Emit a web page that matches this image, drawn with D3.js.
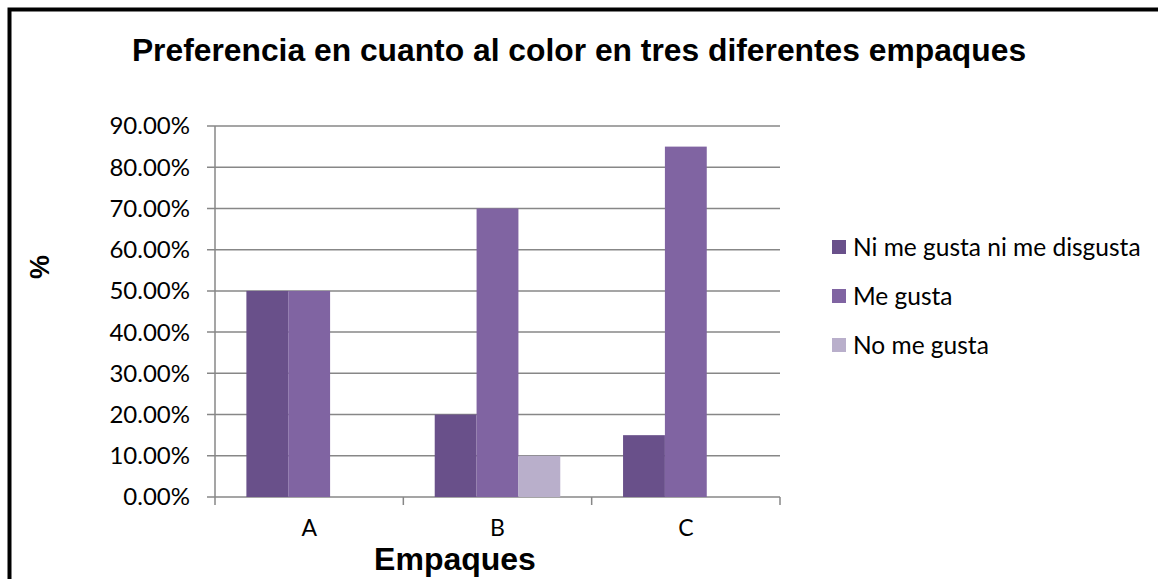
<!DOCTYPE html>
<html>
<head>
<meta charset="utf-8">
<script src="https://cdn.jsdelivr.net/npm/d3@7"></script>
<style>
body { margin: 0; background: #fff; }
</style>
</head>
<body>
<div id="chart"></div>
<script>
//chart data
var categories = ["A", "B", "C"];
var series = ["Ni me gusta ni me disgusta", "Me gusta", "No me gusta"];
var values = [
	[0.50, 0.50, 0.00],   //A
	[0.20, 0.70, 0.10],   //B
	[0.15, 0.85, 0.00]    //C
];
var yTicks = [0, 0.1, 0.2, 0.3, 0.4, 0.5, 0.6, 0.7, 0.8, 0.9];
var colors = ["#69508a", "#8064a2", "#b9afcb"];

var W = 1158, H = 579;
var svg = d3.select("#chart").append("svg")
	.attr("width", W)
	.attr("height", H);

//outer frame (runs past the right and bottom edges)
svg.append("rect")
	.attr("x", 9.5).attr("y", 9.5)
	.attr("width", 1300).attr("height", 700)
	.attr("fill", "white")
	.attr("stroke", "black")
	.attr("stroke-width", 4);

//plot area
var plotLeft = 215, plotRight = 780, plotTop = 126, plotBottom = 497;

var y = d3.scaleLinear().domain([0, 0.9]).range([plotBottom, plotTop]);
var x = d3.scaleBand().domain(categories).range([plotLeft, plotRight]).padding(0);
var xs = d3.scaleBand().domain(series).range([0, x.bandwidth()])
	.paddingInner(0).paddingOuter(0.75);

//gridlines + left ticks
svg.selectAll("line.grid")
	.data(yTicks)
	.enter()
	.append("line")
	.attr("class", "grid")
	.attr("x1", plotLeft - 8)
	.attr("x2", plotRight)
	.attr("y1", function(d){ return y(d); })
	.attr("y2", function(d){ return y(d); })
	.attr("stroke", "#878787")
	.attr("stroke-width", 1.5);

//y axis line
svg.append("line")
	.attr("x1", plotLeft).attr("x2", plotLeft)
	.attr("y1", plotTop).attr("y2", plotBottom + 8)
	.attr("stroke", "#878787")
	.attr("stroke-width", 1.5);

//category tick marks
var bounds = categories.map(function(c){ return x(c); }).concat([plotRight]);
svg.selectAll("line.xtick")
	.data(bounds.slice(1))
	.enter()
	.append("line")
	.attr("class", "xtick")
	.attr("x1", function(d){ return d; })
	.attr("x2", function(d){ return d; })
	.attr("y1", plotBottom)
	.attr("y2", plotBottom + 8)
	.attr("stroke", "#878787")
	.attr("stroke-width", 1.5);

//y labels
svg.selectAll("text.ylab")
	.data(yTicks)
	.enter()
	.append("text")
	.attr("class", "ylab")
	.attr("x", 190)
	.attr("y", function(d){ return y(d); })
	.attr("dy", "0.35em")
	.attr("text-anchor", "end")
	.attr("font-family", "Lato")
	.attr("font-size", 24)
	.attr("fill", "#000")
	.text(function(d){ return d3.format(".2%")(d); });

//bars
var groups = svg.selectAll("g.cat")
	.data(categories)
	.enter()
	.append("g")
	.attr("class", "cat")
	.attr("transform", function(c){ return "translate(" + x(c) + ",0)"; });

groups.selectAll("rect")
	.data(function(c, i){
		return series.map(function(s, j){ return {s: s, v: values[i][j], j: j}; });
	})
	.enter()
	.append("rect")
	.attr("x", function(d){ return xs(d.s); })
	.attr("width", xs.bandwidth())
	.attr("y", function(d){ return y(d.v); })
	.attr("height", function(d){ return plotBottom - y(d.v); })
	.attr("fill", function(d){ return colors[d.j]; });

//category labels
svg.selectAll("text.xlab")
	.data(categories)
	.enter()
	.append("text")
	.attr("class", "xlab")
	.attr("x", function(c){ return x(c) + x.bandwidth() / 2; })
	.attr("y", 536)
	.attr("text-anchor", "middle")
	.attr("font-family", "Lato")
	.attr("font-size", 23)
	.text(function(c){ return c; });

//titles
svg.append("text")
	.attr("x", 579).attr("y", 61)
	.attr("text-anchor", "middle")
	.attr("font-family", "Liberation Sans, Arial")
	.attr("font-weight", "bold")
	.attr("font-size", 31.8)
	.text("Preferencia en cuanto al color en tres diferentes empaques");

svg.append("text")
	.attr("x", 455).attr("y", 570)
	.attr("text-anchor", "middle")
	.attr("font-family", "Liberation Sans, Arial")
	.attr("font-weight", "bold")
	.attr("font-size", 32)
	.text("Empaques");

svg.append("text")
	.attr("transform", "translate(49,267) rotate(-90)")
	.attr("text-anchor", "middle")
	.attr("font-family", "Liberation Sans, Arial")
	.attr("font-weight", "bold")
	.attr("font-size", 27)
	.text("%");

//legend
var legend = svg.selectAll("g.leg")
	.data(series)
	.enter()
	.append("g")
	.attr("class", "leg")
	.attr("transform", function(s, i){ return "translate(832," + (247 + i * 49) + ")"; });

legend.append("rect")
	.attr("x", 0).attr("y", -7)
	.attr("width", 14).attr("height", 14)
	.attr("fill", function(s, i){ return colors[i]; });

legend.append("text")
	.attr("x", 21)
	.attr("y", 0)
	.attr("dy", "0.35em")
	.attr("font-family", "Lato")
	.attr("font-size", 24.5)
	.text(function(s){ return s; });
</script>
</body>
</html>
